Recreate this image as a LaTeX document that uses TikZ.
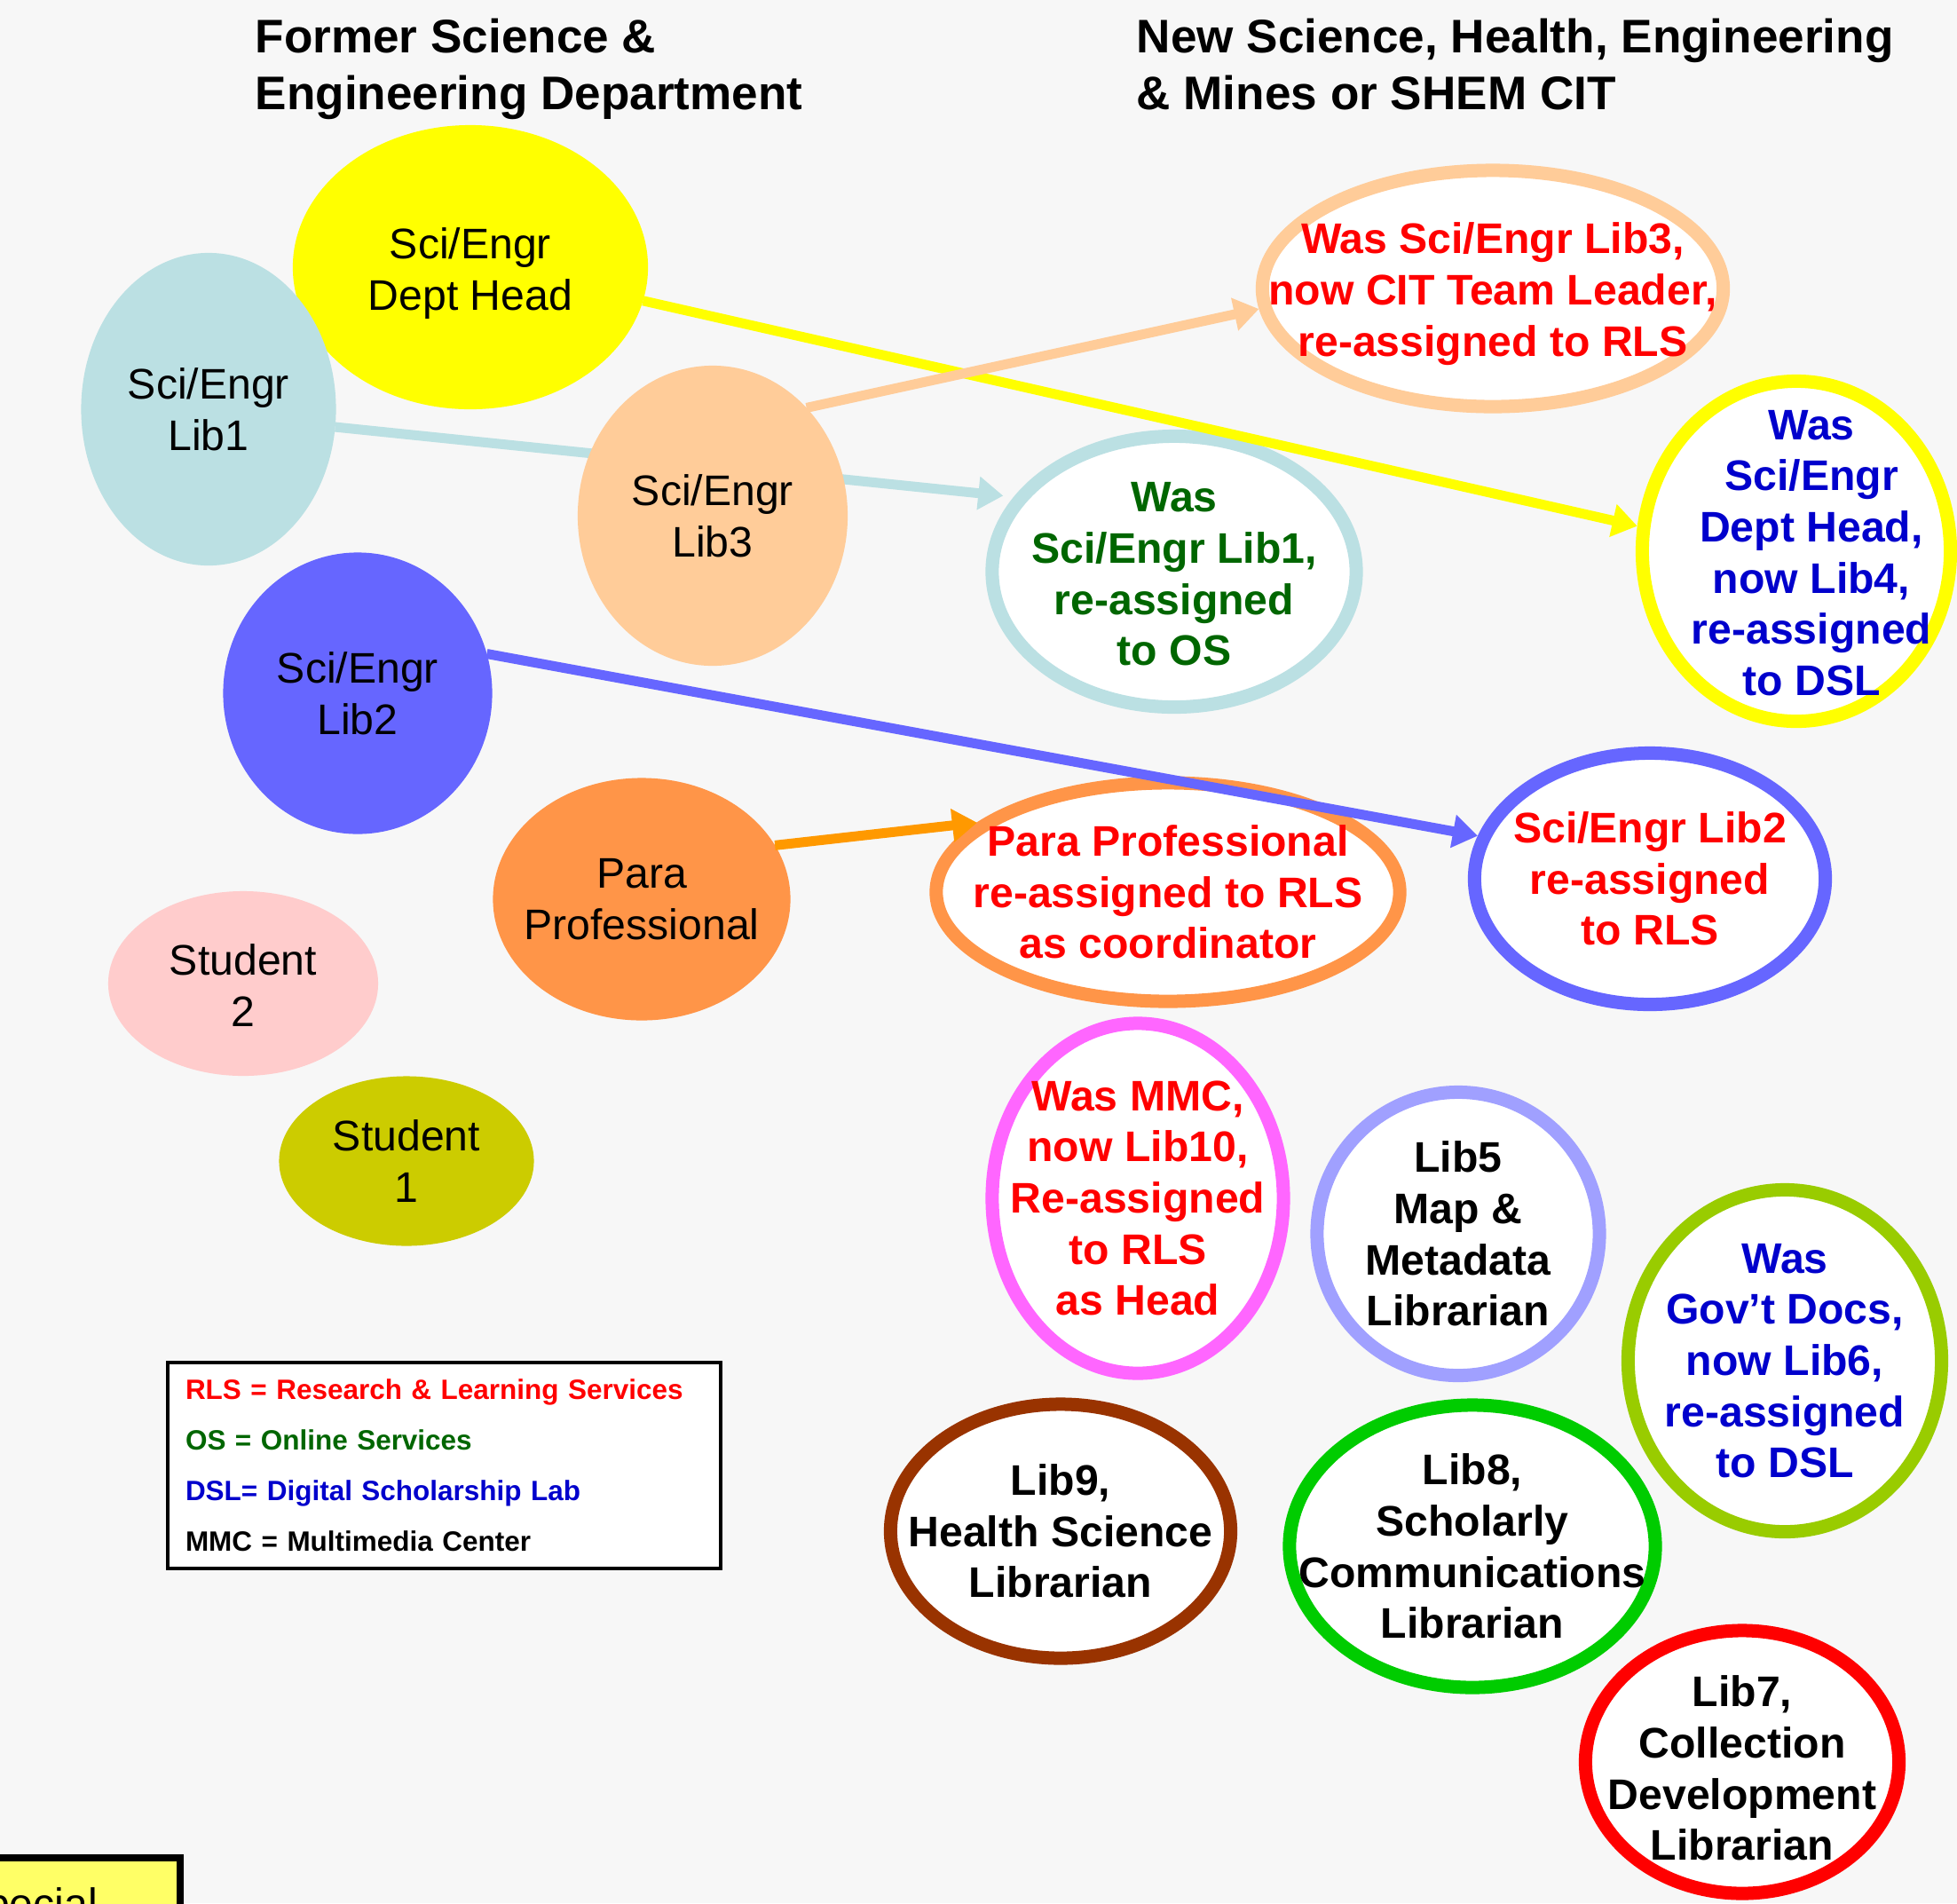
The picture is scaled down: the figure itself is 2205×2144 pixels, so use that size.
\documentclass[tikz,border=0pt]{standalone}
\usepackage{fontspec}
\setmainfont{Liberation Sans}
\usepackage{tikz}
\usetikzlibrary{arrows.meta,shapes.geometric}

\definecolor{bgcol}{HTML}{F7F7F7}
\definecolor{headyellow}{HTML}{FFFF00}
\definecolor{libteal}{HTML}{BBE0E3}
\definecolor{libpeach}{HTML}{FFCC99}
\definecolor{libblue}{HTML}{6666FF}
\definecolor{paraorange}{HTML}{FF9548}
\definecolor{studpink}{HTML}{FFCCCC}
\definecolor{studolive}{HTML}{CCCC00}
\definecolor{arrorange}{HTML}{FF9900}
\definecolor{mmcpink}{HTML}{FF66FF}
\definecolor{maplav}{HTML}{A0A0FF}
\definecolor{docsgreen}{HTML}{99CC00}
\definecolor{hsbrown}{HTML}{993300}
\definecolor{scgreen}{HTML}{00CC00}
\definecolor{cdred}{HTML}{FF0000}
\definecolor{rlsred}{HTML}{FF0000}
\definecolor{osgreen}{HTML}{006600}
\definecolor{dslblue}{HTML}{0000CC}
\definecolor{specyellow}{HTML}{FFFF66}

\newcommand{\titlefont}{\fontsize{15.1}{18.4}\selectfont\bfseries}
\newcommand{\nodefont}{\fontsize{13.7}{16.4}\selectfont}
\newcommand{\legfont}{\fontsize{8.95}{16.2}\selectfont\bfseries}

\tikzset{
	oldpos/.style={ellipse,inner sep=0pt,outer sep=0pt},
	newpos/.style={ellipse,draw=#1,line width=0.15cm,fill=white,inner sep=0pt},
	every label/.style={align=center,inner sep=0pt,font=\nodefont},
	newtxt/.style={font=\nodefont\bfseries,text=#1},
}

\begin{document}
\begin{tikzpicture}[x=0.01cm,y=-0.01cm]
		\path[use as bounding box,fill=bgcol] (0,0) rectangle (2205,2144);
		\clip (0,0) rectangle (2205,2144);

		\begin{scope}[every node/.style={anchor=north west,inner sep=0pt,align=left,font=\titlefont}]
			\node (oldtitle) at (287,20) {Former Science \&\\Engineering Department};
			\node (newtitle) at (1280,20) {New Science, Health, Engineering\\\& Mines or SHEM CIT};
		\end{scope}

		\node[newpos=libpeach,minimum width=5.19cm,minimum height=2.66cm,
			label={[newtxt=rlsred,yshift=-0.06cm]center:Was Sci/Engr Lib3,\\now CIT Team Leader,\\re-assigned to RLS}] (lib3new) at (1682,325) {};
		\node[newpos=libteal,minimum width=4.10cm,minimum height=3.05cm,
			label={[newtxt=osgreen,yshift=-0.03cm]center:Was\\Sci/Engr Lib1,\\re-assigned\\to OS}] (lib1new) at (1323,644) {};
		\node[newpos=headyellow,minimum width=3.47cm,minimum height=3.83cm,
			label={[newtxt=dslblue,xshift=0.17cm,yshift=-0.02cm]center:Was\\Sci/Engr\\Dept Head,\\now Lib4,\\re-assigned\\to DSL}] (headnew) at (2024,621) {};
		\node[newpos=paraorange,minimum width=5.22cm,minimum height=2.46cm,
			label={[newtxt=rlsred]center:Para Professional\\re-assigned to RLS\\as coordinator}] (paranew) at (1316,1005) {};
		\node[newpos=libblue,minimum width=3.95cm,minimum height=2.83cm,
			label={[newtxt=rlsred]center:Sci/Engr Lib2\\re-assigned\\to RLS}] (lib2new) at (1859,990) {};
		\node[newpos=mmcpink,minimum width=3.28cm,minimum height=3.94cm,
			label={[newtxt=rlsred]center:Was MMC,\\now Lib10,\\Re-assigned\\to RLS\\as Head}] (lib10) at (1282,1350) {};
		\node[newpos=maplav,minimum width=3.18cm,minimum height=3.19cm,
			label={[newtxt=black]center:Lib5\\Map \&\\Metadata\\Librarian}] (lib5) at (1643,1390) {};
		\node[newpos=docsgreen,minimum width=3.53cm,minimum height=3.85cm,
			label={[newtxt=dslblue]center:Was\\Gov’t Docs,\\now Lib6,\\re-assigned\\to DSL}] (lib6) at (2011,1533) {};
		\node[newpos=hsbrown,minimum width=3.83cm,minimum height=2.86cm,
			label={[newtxt=black]center:Lib9,\\Health Science\\Librarian}] (lib9) at (1195,1725) {};
		\node[newpos=scgreen,minimum width=4.12cm,minimum height=3.18cm,
			label={[newtxt=black]center:Lib8,\\Scholarly\\Communications\\Librarian}] (lib8) at (1659,1742) {};
		\node[newpos=cdred,minimum width=3.53cm,minimum height=2.96cm,
			label={[newtxt=black,yshift=-0.07cm]center:Lib7,\\Collection\\Development\\Librarian}] (lib7) at (1963,1985) {};

		\node[oldpos,fill=headyellow,minimum width=4cm,minimum height=3.2cm,
			label={[yshift=-0.07cm]center:Sci/Engr\\Dept Head}] (dhead) at (530,301) {};
		\node[oldpos,fill=libteal,minimum width=2.87cm,minimum height=3.52cm,
			label={center:Sci/Engr\\Lib1}] (lib1) at (235,461) {};
		\node[oldpos,fill=libblue,minimum width=3.03cm,minimum height=3.17cm,
			label={center:Sci/Engr\\Lib2}] (lib2) at (403,781) {};
		\node[oldpos,fill=paraorange,minimum width=3.35cm,minimum height=2.73cm,
			label={center:Para\\Professional}] (para) at (723,1013) {};
		\node[oldpos,fill=studpink,minimum width=3.04cm,minimum height=2.08cm,
			label={[yshift=-0.02cm]center:Student\\2}] (stud2) at (274,1108) {};
		\node[oldpos,fill=studolive,minimum width=2.87cm,minimum height=1.91cm,
			label={center:Student\\1}] (stud1) at (458,1308) {};

		\begin{scope}[>={Triangle[length=0.28cm,width=0.36cm]},
					every edge/.style={draw,line width=0.11cm}]
			\path [->] (lib1.-8) edge[draw=libteal,shorten >=0.12cm] (lib1new.155);
		\end{scope}

		\node[oldpos,fill=libpeach,minimum width=3.04cm,minimum height=3.38cm,
			label={center:Sci/Engr\\Lib3}] (lib3) at (803,581) {};

		\begin{scope}[>={Triangle[length=0.28cm,width=0.36cm]},
					every edge/.style={draw,line width=0.11cm}]
			\path [->] (dhead.-11) edge[draw=headyellow] (headnew.171);
			\path [->] (lib3.49) edge[draw=libpeach] (lib3new.185);
			\path [->] (lib2.17) edge[draw=libblue] (lib2new.166);
			\path [->] (para.22) edge[draw=arrorange] (paranew.160);
		\end{scope}

		\node[draw=black,line width=0.04cm,fill=white,anchor=north west,inner xsep=0.2cm,inner ysep=0.19cm,
			text width=5.83cm,align=left,font=\legfont] (legend) at (187,1533)
			{\textcolor{rlsred}{RLS = Research \& Learning Services}\\
			\textcolor{osgreen}{OS = Online Services}\\
			\textcolor{dslblue}{DSL= Digital Scholarship Lab}\\
			MMC = Multimedia Center};

		\node[draw=black,line width=0.08cm,fill=specyellow,anchor=north east,inner xsep=0.93cm,inner ysep=0.34cm,
			font=\nodefont] (special) at (207,2089) {Special};
	\end{tikzpicture}
\end{document}
